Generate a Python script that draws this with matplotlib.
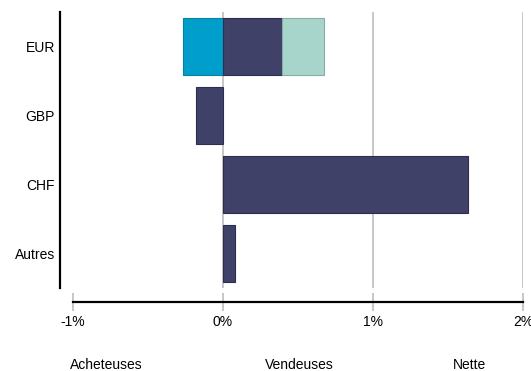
import matplotlib.pyplot as plt
import numpy as np

plt.rcParams["font.family"] = ["Liberation Sans", "DejaVu Sans"]

currencies = ["EUR", "GBP", "CHF", "Autres"]
series_names = ["Acheteuses", "Vendeuses", "Nette"]
acheteuses = [-0.27, 0.0, 0.0, 0.0]
vendeuses = [0.39, -0.18, 1.63, 0.08]
nette = [0.28, 0.0, 0.0, 0.0]
x_ticks = [-1, 0, 1, 2]
x_tick_labels = ["-1%", "0%", "1%", "2%"]

colors = ["#009fcb", "#3f4169", "#a8d5cb"]
edges = ["#0a7f9f", "#2c2e50", "#85aea5"]

PX = 72 / 100  # points per pixel at dpi 100

fig = plt.figure(figsize=(5.31, 3.71), dpi=100)
ax = fig.add_axes([73 / 531, 1 - 288 / 371, 450 / 531, 276 / 371])

y = np.arange(len(currencies))
pos_base = np.zeros(len(currencies))
neg_base = np.zeros(len(currencies))
for vals, c, ec in zip([acheteuses, vendeuses, nette], colors, edges):
    vals = np.asarray(vals, dtype=float)
    left = np.where(vals >= 0, pos_base, neg_base)
    keep = vals != 0
    ax.barh(y[keep], vals[keep], left=left[keep], height=0.826, color=c,
            edgecolor=ec, linewidth=0.8, zorder=3)
    pos_base += np.clip(vals, 0, None)
    neg_base += np.clip(vals, None, 0)

ax.set_xlim(-1, 2)
ax.set_ylim(3.493, -0.507)

# vertical grid only at 0, 1, 2
for xv in x_ticks[1:]:
    ax.axvline(xv, color="#c8c8c8", linewidth=2 * PX, zorder=1)

ax.set_xticks(x_ticks)
ax.set_xticklabels(x_tick_labels, fontsize=10)
ax.set_yticks(y)
ax.set_yticklabels(currencies, fontsize=10)

for side in ("top", "right"):
    ax.spines[side].set_visible(False)
ax.spines["left"].set_position(("outward", 13 * PX))
ax.spines["left"].set_linewidth(2.2 * PX)
ax.spines["bottom"].set_position(("outward", 14 * PX))
ax.spines["bottom"].set_linewidth(2.2 * PX)

ax.tick_params(axis="y", length=0, pad=5 * PX)
ax.tick_params(axis="x", direction="inout", length=18 * PX, width=2 * PX,
               color="#c8c8c8", pad=4 * PX)

legend_x = [70, 265, 453]
for name, lx in zip(series_names, legend_x):
    fig.text(lx / 531, 1 - 365 / 371, name, fontsize=10, ha="left", va="center")

fig.savefig("out.png", dpi=100)
